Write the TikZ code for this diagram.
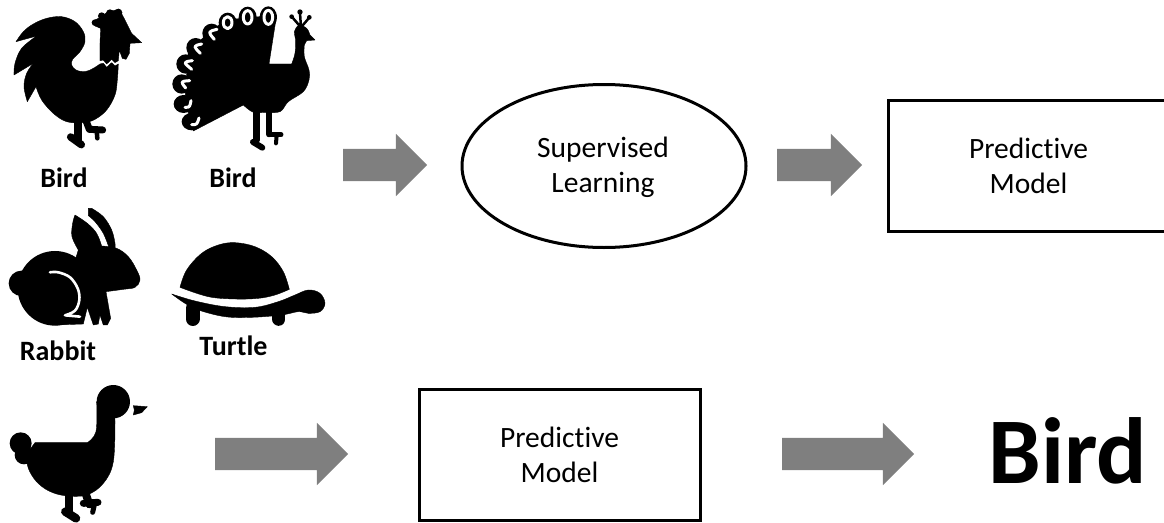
\documentclass[tikz,border=0pt]{standalone}
\usepackage{fontspec}
\setmainfont{Carlito}[Ligatures=NoCommon]
\usetikzlibrary{shapes.geometric,shapes.arrows}
\definecolor{arrowgray}{HTML}{7F7F7F}
\tikzset{
  blockarrow/.style={single arrow,fill=arrowgray,inner sep=0pt,outer sep=0pt,single arrow tip angle=90,single arrow head extend=15pt,text width=0pt,text height=16pt,text depth=16pt,anchor=center},
  modelbox/.style={draw=black,line width=3pt,minimum width=281pt,minimum height=131pt,inner sep=0pt,align=center,font=\fontsize{29.5}{35}\selectfont},
  oval/.style={ellipse,draw=black,line width=3pt,minimum width=284pt,minimum height=163pt,inner sep=0pt},
  bodytext/.style={align=center,font=\fontsize{29.5}{35}\selectfont},
  namelabel/.style={font=\fontsize{28}{30}\selectfont\bfseries,inner sep=0pt},
  sil/.style={fill=black,draw=black,line width=.4pt,line join=round},
  limb/.style={draw=black,line cap=round,line join=round},
  gap/.style={draw=white,line cap=round,line join=round}
}
\begin{document}
\begin{tikzpicture}[x=1pt,y=-1pt]
\useasboundingbox (0,0) rectangle (1164,522);
% rooster
\begin{scope}[shift={(0,0)},x=.3333pt,y=-.3333pt]
\path[sil] (48,125) -- plot[smooth,tension=.6] coordinates {(48,125) (70,95) (100,72) (140,55) (185,50) (225,65) (250,95) (255,125) (240,155) (218,178) (215,195) (228,210) (255,215) (280,205) (300,192)}
 -- (310,190) -- (320,202) -- (335,188) -- (345,198) -- (355,192)
 -- plot[smooth,tension=.6] coordinates {(355,192) (352,240) (345,285) (320,330) (285,358) (250,368) (200,365) (160,340) (125,300) (108,260)}
 -- (82,305) -- plot[smooth,tension=.6] coordinates {(82,305) (72,260) (80,220) (100,190)}
 -- (42,225) -- plot[smooth,tension=.6] coordinates {(42,225) (45,190) (65,145) (110,108)} -- cycle;
\path[sil] (300,182) -- (300,130) -- (302,85) -- (285,78) -- (285,60) -- (295,55) -- (325,35) -- (358,28) -- (375,60) -- (395,100) -- (425,128) -- (390,130) -- (388,160) -- (378,178) -- (367,175) -- (358,150) -- (355,182) -- (345,188) -- (335,178) -- (320,192) -- (310,180) -- cycle;
\fill (285,68) circle [radius=10] (305,48) circle [radius=11] (330,40) circle [radius=12] (355,38) circle [radius=12];
\draw[limb,line width=8pt] (233,365) -- (233,420);
\draw[limb,line width=7.5pt] (212,411) -- (244,434);
\draw[limb,line width=7pt] (258,362) -- (268,388) -- (308,390);
\draw[limb,line width=4.5pt] (290,392) -- (292,415);
\end{scope}
% peacock
\begin{scope}[shift={(165,0)},x=.3333pt,y=-.3333pt]
\path[sil] (335,45) -- (312,192) -- (380,192) -- plot[smooth,tension=.6] coordinates {(380,192) (390,160) (392,120) (388,95) (402,76) (425,85) (435,105)} -- (450,120) -- (425,122) -- plot[smooth,tension=.6] coordinates {(418,135) (418,170) (432,210) (432,240) (415,275) (370,305) (345,335) (300,337) (265,337) (235,315)} -- (85,393) -- (60,300) -- (70,150) -- (180,60) -- cycle;
\foreach \cx/\cy/\rx/\ry in {80/365/30/26,56/312/30/27,50/252/28/29,62/192/28/29,92/143/28/29,140/100/28/29,188/68/27/30,248/52/27/32,310/52/26/33}{
  \fill (\cx,\cy) ellipse [x radius=\rx,y radius=\ry];
}
\draw[gap,line width=3pt] (102,354) .. controls (96,374) .. (80,374);
\draw[gap,line width=3pt] (78,302) .. controls (74,322) .. (60,322);
\draw[gap,line width=3pt] (74,242) .. controls (46,244) .. (62,264);
\draw[gap,line width=3pt] (82,182) .. controls (54,186) .. (80,208);
\draw[gap,line width=3pt] (110,132) .. controls (84,138) .. (106,160);
\draw[gap,line width=3pt] (156,88) .. controls (128,95) .. (148,118);
\draw[gap,line width=3pt] (188,68) ellipse [x radius=13,y radius=18];
\draw[gap,line width=3pt] (248,52) ellipse [x radius=13,y radius=20];
\draw[gap,line width=3pt] (310,52) ellipse [x radius=13,y radius=21];
\draw[limb,line width=2.5pt] (408,82) -- (405,38) (408,82) -- (382,52) (408,82) -- (432,54);
\fill (405,36) circle [radius=8] (380,50) circle [radius=7] (433,52) circle [radius=7];
\draw[limb,line width=6.5pt] (275,330) -- (275,420);
\draw[limb,line width=6.5pt] (312,330) -- (312,402);
\draw[limb,line width=6pt] (264,426) -- (292,443);
\draw[limb,line width=5pt] (312,404) -- (348,404);
\draw[limb,line width=4pt] (335,406) -- (333,430);
\end{scope}
% rabbit
\begin{scope}[shift={(0,200)},x=.3333pt,y=-.3333pt]
\fill (165,265) circle [radius=112];
\fill (64,250) circle [radius=38];
\path[sil] (235,150) -- plot[smooth,tension=.6] coordinates {(235,150) (216,110) (218,70) (225,45)} -- plot[smooth,tension=.6] coordinates {(225,45) (262,70) (290,100) (305,138)} -- plot[smooth,tension=.6] coordinates {(305,138) (350,145) (385,170) (410,210) (420,240) (405,262) (370,268) (318,275)} -- (332,355) -- (322,375) -- (310,375) -- (300,345) -- (295,372) -- (280,375) -- (262,322) -- (250,372) -- (165,375) -- cycle;
\path[sil] (265,25) -- plot[smooth,tension=.6] coordinates {(275,25) (310,50) (335,90) (345,130) (345,147)} -- (326,140) -- plot[smooth,tension=.6] coordinates {(326,140) (310,100) (285,65) (265,47)} -- cycle;
\draw[gap,line width=2.6pt] plot[smooth,tension=.6] coordinates {(150,217) (175,217) (210,232) (233,265) (238,300) (225,332) (195,346)} -- (240,350);
\end{scope}
% turtle
\begin{scope}[shift={(165,200)},x=.3333pt,y=-.3333pt]
\path[sil] plot[smooth,tension=.6] coordinates {(45,262) (65,210) (110,160) (160,135) (210,128) (270,140) (320,170) (355,215) (373,268)} -- plot[smooth,tension=.6] coordinates {(373,268) (330,285) (280,295) (210,297) (130,290) (45,262)} -- cycle;
\path[sil] plot[smooth,tension=.6] coordinates {(20,282) (90,303) (180,320) (270,322) (340,305) (390,285) (430,270) (465,280) (480,310) (465,335) (430,340) (400,335) (350,345) (260,352) (180,350) (100,330) (60,310) (20,282)} -- cycle;
\draw[limb,line width=14pt] (83,325) -- (83,357);
\draw[limb,line width=13pt] (342,345) -- (342,358);
\end{scope}
% duck
\begin{scope}[shift={(0,375)},x=.3333pt,y=-.3333pt]
\fill (340,80) circle [radius=50];
\fill (62,205) circle [radius=33];
\fill (72,240) circle [radius=28];
\path[sil] plot[smooth,tension=.6] coordinates {(290,80) (288,170) (262,203)} -- (105,203) -- plot[smooth,tension=.6] coordinates {(78,240) (85,280) (108,318) (145,347) (195,362) (260,360) (310,325) (340,260) (345,130)} -- cycle;
\path[sil] (400,92) -- (442,95) -- (425,113) -- (400,120) -- (403,105) -- cycle;
\draw[limb,line width=8pt] (208,355) -- (208,410);
\draw[limb,line width=8.5pt] (196,410) -- (228,430);
\draw[limb,line width=8pt] (255,350) -- (268,388);
\draw[limb,line width=7pt] (250,385) -- (294,382);
\draw[limb,line width=5pt] (283,390) -- (278,412);
\end{scope}
% labels
\node[namelabel] (birda) at (64,178) {Bird};
\node[namelabel] (birdb) at (233,178) {Bird};
\node[namelabel] (rabbit) at (58,351) {Rabbit};
\node[namelabel] (turtle) at (233.5,346) {Turtle};
% flow
\node[blockarrow,minimum height=84pt] (arrowa) at (377,165) {};
\node[oval] (learn) at (604,166) {};
\node[bodytext] (learntext) at (603,167) {Supervised\\Learning};
\node[blockarrow,minimum height=85pt] (arrowb) at (811.5,165) {};
\node[modelbox] (modela) at (1028.5,165.5) {Predictive\\Model};
\node[blockarrow,minimum height=133pt] (arrowc) at (273.5,454) {};
\node[modelbox] (modelb) at (559.5,454.5) {Predictive\\Model};
\node[blockarrow,minimum height=132pt] (arrowd) at (840,454) {};
\node[font=\fontsize{94}{94}\selectfont\bfseries,inner sep=0pt] (result) at (1068,451) {Bird};
\end{tikzpicture}
\end{document}
